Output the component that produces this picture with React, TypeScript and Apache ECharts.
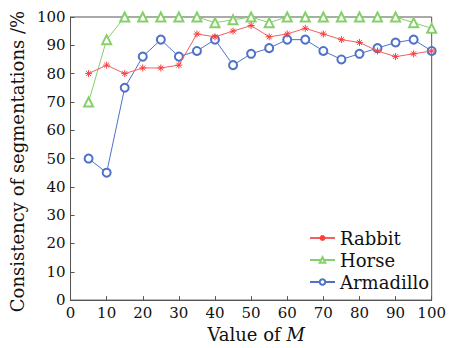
import React, { useEffect, useRef } from "react";
import * as echarts from "echarts";

const mValues = [5, 10, 15, 20, 25, 30, 35, 40, 45, 50, 55, 60, 65, 70, 75, 80, 85, 90, 95, 100];
const rabbit = [80, 83, 80, 82, 82, 83, 94, 93, 95, 97, 93, 94, 96, 94, 92, 91, 88, 86, 87, 88];
const horse = [70, 92, 100, 100, 100, 100, 100, 98, 99, 100, 98, 100, 100, 100, 100, 100, 100, 100, 98, 96];
const armadillo = [50, 45, 75, 86, 92, 86, 88, 92, 83, 87, 89, 92, 92, 88, 85, 87, 89, 91, 92, 88];
const seriesNames = ["Rabbit", "Horse", "Armadillo"];

const FONT = "DejaVu Serif";
const AXIS = "#555";
const STAR = "path://M0,5L10,5M5,0L5,10M1.5,1.5L8.5,8.5M1.5,8.5L8.5,1.5";

export default function App() {
  const ref = useRef<HTMLDivElement>(null);
  useEffect(() => {
    if (!ref.current) return;
    const chart = echarts.init(ref.current, undefined, { renderer: "svg" });
    const pairs = (vals: number[]) => mValues.map((m, i) => [m, vals[i]]);
    chart.setOption({
      animation: false,
      backgroundColor: "#fff",
      textStyle: { fontFamily: FONT },
      grid: { left: 67, right: 17, top: 17, bottom: 42, show: true, borderColor: AXIS, borderWidth: 1 },
      legend: {
        orient: "vertical",
        left: 304,
        top: 224,
        itemWidth: 25,
        itemHeight: 7,
        itemGap: 4,
        textStyle: { fontFamily: FONT, fontSize: 18, color: "#111" },
        data: seriesNames,
      },
      xAxis: {
        type: "value",
        min: 0,
        max: 100,
        interval: 10,
        name: "Value of {i|M}",
        nameLocation: "middle",
        nameGap: 22,
        nameTextStyle: {
          fontFamily: FONT,
          fontSize: 18,
          color: "#111",
          padding: [0, 0, 0, 10],
          rich: { i: { fontFamily: FONT, fontSize: 18, fontStyle: "italic", color: "#111" } },
        },
        axisLine: { lineStyle: { color: AXIS, width: 1 } },
        axisTick: { inside: true, length: 4, lineStyle: { color: AXIS } },
        axisLabel: { fontFamily: FONT, fontSize: 15, color: "#111", margin: 5 },
        splitLine: { show: false },
      },
      yAxis: {
        type: "value",
        min: 0,
        max: 100,
        interval: 10,
        name: "Consistency of segmentations /%",
        nameLocation: "middle",
        nameGap: 38,
        nameTextStyle: { fontFamily: FONT, fontSize: 18, color: "#111", padding: [0, 6, 0, 0] },
        axisLine: { lineStyle: { color: AXIS, width: 1 } },
        axisTick: { inside: true, length: 4, lineStyle: { color: AXIS } },
        axisLabel: { fontFamily: FONT, fontSize: 15, color: "#111", margin: 5 },
        splitLine: { show: false },
      },
      series: [
        {
          name: seriesNames[0],
          type: "line",
          data: pairs(rabbit),
          symbol: STAR,
          symbolSize: 7,
          lineStyle: { color: "#f26060", width: 1 },
          itemStyle: { color: "#ff3b3b", borderColor: "#ff3b3b", borderWidth: 1 },
          z: 3,
        },
        {
          name: seriesNames[1],
          type: "line",
          data: pairs(horse),
          symbol: "emptyTriangle",
          symbolSize: 9,
          lineStyle: { color: "#86d06a", width: 1 },
          itemStyle: { color: "#86d06a", borderColor: "#86d06a", borderWidth: 1 },
          z: 2,
        },
        {
          name: seriesNames[2],
          type: "line",
          data: pairs(armadillo),
          symbol: "emptyCircle",
          symbolSize: 8,
          lineStyle: { color: "#4f72c8", width: 1 },
          itemStyle: { color: "#4f72c8", borderColor: "#4f72c8", borderWidth: 1 },
          z: 2,
        },
      ],
    });
    return () => chart.dispose();
  }, []);
  return <div ref={ref} style={{ width: 449, height: 348, position: "absolute", left: 0, top: 0 }} />;
}
